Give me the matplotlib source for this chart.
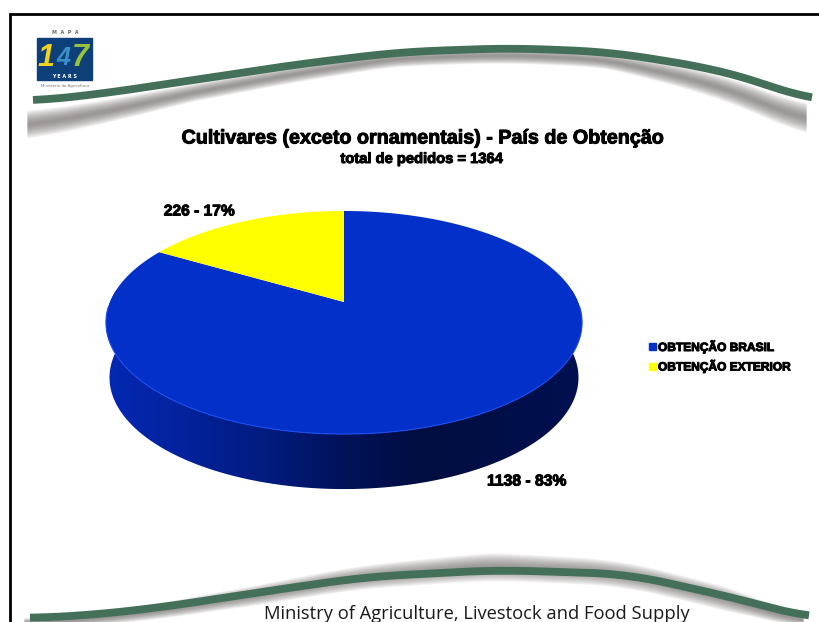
import numpy as np
import matplotlib
matplotlib.use('Agg')
import matplotlib.pyplot as plt
import matplotlib.patheffects as pe
from matplotlib.colors import LinearSegmentedColormap
from matplotlib.patches import Polygon, Rectangle

# Data
categories = ['OBTENÇÃO BRASIL', 'OBTENÇÃO EXTERIOR']
values = [1138, 226]
percents = [83, 17]
title = 'Cultivares (exceto ornamentais) - País de Obtenção'
subtitle = 'total de pedidos = 1364'
footer = 'Ministry of Agriculture, Livestock and Food Supply'

# Decorative swoosh curves (pixels)
top_x = [33, 100, 200, 300, 400, 510, 610, 710, 760, 812]
top_y = [101, 94, 79, 64, 52, 48, 52, 68, 82, 101]
bottom_x = [30, 80, 157, 261, 365, 496, 627, 731, 809]
bottom_y = [618, 616, 608, 592, 577, 570, 574, 597, 618]

GREEN = '#44705a'
BLUE = '#0330c8'
YELLOW = '#ffff00'

fig = plt.figure(figsize=(8.19, 6.22), dpi=100)
ax = fig.add_axes([0, 0, 1, 1])
ax.set_xlim(0, 819)
ax.set_ylim(622, 0)
ax.axis('off')

heavy = [pe.withStroke(linewidth=0.7, foreground='black')]


def project(theta, dy=0, shrink=1.0):
    # tilted disc with perspective, theta clockwise from 12 o'clock
    u, v = np.sin(theta), np.cos(theta)
    d = 0.184 * v + 1
    return 344 + 234 * shrink * u / d, (302 - 52.2 * v) / d + dy


def swoosh(xs, ys, shadow_at, shadow_off, shadow_half):
    xx = np.linspace(xs[0], xs[-1], 300)
    yy = np.interp(xx, xs, ys)
    yy = np.convolve(np.pad(yy, 15, mode='edge'), np.ones(31) / 31, mode='valid')
    off = np.interp(xx, shadow_at, shadow_off)
    half = np.interp(xx, shadow_at, shadow_half)
    sx = xx - 6
    for k in np.linspace(1, 0.1, 14):
        ax.fill_between(sx, yy + off - half * k, yy + off + half * k, color='#6e6a68', alpha=0.075, lw=0, zorder=1)
    ax.plot(xx, yy, color=GREEN, lw=5.6, solid_capstyle='butt', zorder=2)


swoosh(top_x, top_y, [33, 200, 400, 610, 812], [24, 13, 6, 7, 20], [14, 9, 8, 8, 15])
swoosh(bottom_x, bottom_y, [30, 261, 496, 731, 809], [5, 3, -4, 1, 4], [5, 10, 14, 12, 6])

# Frame
ax.plot([10, 10, 819], [622, 13.5, 13.5], color='black', lw=2, solid_joinstyle='miter', zorder=5)

# Logo
ax.add_patch(Rectangle((37, 38), 55, 42, color='#0d3f78', zorder=3))
ax.text(46, 58, '1', color='#f2d21e', family='Liberation Sans', style='italic', fontsize=22, fontweight='bold',
        ha='center', va='center', zorder=4)
ax.text(63, 58, '4', color='#3a8fc8', family='Liberation Sans', style='italic', fontsize=18, fontweight='bold',
        ha='center', va='center', zorder=4)
ax.text(80, 58, '7', color='#97c43a', family='Liberation Sans', style='italic', fontsize=22, fontweight='bold',
        ha='center', va='center', zorder=4)
ax.text(65, 33, 'M  A  P  A', color='#666666', fontsize=3.5, fontweight='bold', ha='center', va='center', zorder=4)
ax.text(65, 76.5, 'Y E A R S', color='white', fontsize=3.5, fontweight='bold', ha='center', va='center', zorder=4)
ax.text(65, 86, 'Ministério da Agricultura', color='#777777', fontsize=2.8, ha='center', va='center', zorder=4)

# Pie side wall with horizontal shading
t_side = np.linspace(np.pi / 2 - 0.35, 3 * np.pi / 2 + 0.35, 200)
sx, sy = project(t_side)
bx, by = project(t_side, 55, 0.985)
wall = np.column_stack([np.r_[sx, bx[::-1]], np.r_[sy, by[::-1]]])
clip = Polygon(wall, closed=True, transform=ax.transData, fc='none', ec='none')
ax.add_patch(clip)
shade = LinearSegmentedColormap.from_list(
    'wall', ['#0428b4', '#03229c', '#021c80', '#011259', '#000d40', '#000f48', '#000f50'])
grad = ax.imshow(np.linspace(0, 1, 256)[None, :], cmap=shade, extent=(104, 584, 492, 290),
                 aspect='auto', zorder=3)
grad.set_clip_path(clip)
ax.set_xlim(0, 819)
ax.set_ylim(622, 0)

# Pie top: blue runs clockwise from 12 o'clock, yellow closes the circle
fracs = np.array(values) / sum(values)
start = 0.0
for frac, colr in zip(fracs, [BLUE, YELLOW]):
    t = np.linspace(start, start + frac * 2 * np.pi, 300)
    px, py = project(t)
    ax.fill(np.r_[344, px], np.r_[302, py], color=colr, lw=0, zorder=4)
    start += frac * 2 * np.pi
t_edge = np.linspace(np.pi / 2 + 0.05, 3 * np.pi / 2 - 0.05, 200)
ex, ey = project(t_edge)
ax.plot(ex, ey, color='#1a4cf0', lw=0.8, zorder=4)

# Text
ax.text(423, 138, title, family='Liberation Sans', fontsize=14.2, fontweight='bold', ha='center', va='center',
        zorder=6, path_effects=heavy)
ax.text(422, 159, subtitle, family='Liberation Sans', fontsize=10.6, fontweight='bold', ha='center', va='center',
        zorder=6, path_effects=heavy)
ax.text(199, 211, f'{values[1]} - {percents[1]}%', family='Liberation Sans', fontsize=11.2, fontweight='bold',
        ha='center', va='center', zorder=6, path_effects=heavy)
ax.text(527, 481, f'{values[0]} - {percents[0]}%', family='Liberation Sans', fontsize=11.3, fontweight='bold',
        ha='center', va='center', zorder=6, path_effects=heavy)
ax.text(477, 614, footer, family='Open Sans', fontsize=13.2, color='#1a1a1a', ha='center', va='center', zorder=6)

# Legend
for lab, colr, y in zip(categories, [BLUE, YELLOW], [346.5, 366]):
    ax.add_patch(Rectangle((648.5, y - 3.5), 7, 7, color=colr, zorder=6))
    ax.text(658, y, lab, family='Liberation Sans', fontsize=8.6, fontweight='bold', ha='left', va='center',
            zorder=6, path_effects=heavy)

fig.savefig('out.png', dpi=100)
